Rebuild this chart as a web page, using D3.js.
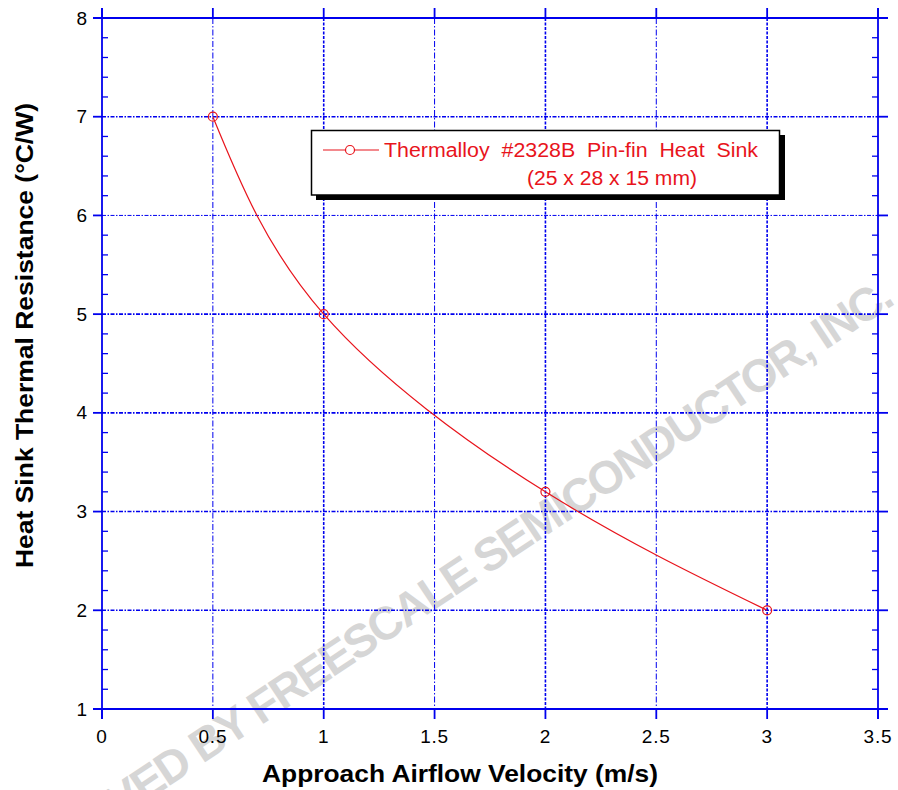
<!DOCTYPE html>
<html>
<head>
<meta charset="utf-8">
<script src="https://cdn.jsdelivr.net/npm/d3@7/dist/d3.min.js"></script>
<style>
  html, body { margin: 0; padding: 0; background: #fff; }
  svg { display: block; font-family: "Liberation Sans", Arial, sans-serif; }
</style>
</head>
<body>
<svg id="chart" width="898" height="790"></svg>
<script>
// ---- data ----
const velocity = [0.5, 1, 2, 3];             // m/s
const resistance = [7, 5, 3.2, 2];           // °C/W
const xTicks = [0, 0.5, 1, 1.5, 2, 2.5, 3, 3.5];
const xTickLabels = ["0", "0.5", "1", "1.5", "2", "2.5", "3", "3.5"];
const yTicks = [1, 2, 3, 4, 5, 6, 7, 8];
const yTickLabels = ["1", "2", "3", "4", "5", "6", "7", "8"];
const seriesName = "Thermalloy  #2328B  Pin-fin  Heat  Sink";
const seriesSub = "(25 x 28 x 15 mm)";
const xTitle = "Approach Airflow Velocity (m/s)";
const yTitle = "Heat Sink Thermal Resistance (°C/W)";
const watermark = "ARCHIVED BY FREESCALE SEMICONDUCTOR, INC.";

// ---- layout ----
const svg = d3.select("#chart");
const L = 102, R = 878, T = 18, B = 709;
const blue = "#0000ee", red = "#e8141c";

const x = d3.scaleLinear().domain([0, 3.5]).range([L, R]);
const y = d3.scaleLinear().domain([1, 8]).range([B, T]);

// watermark (behind)
svg.append("text")
  .attr("transform", "translate(895,304) rotate(-33.6)")
  .attr("text-anchor", "end")
  .attr("font-size", 46).attr("font-weight", "bold")
  .attr("letter-spacing", -2)
  .attr("fill", "#d6d6d6")
  .text(watermark);

// grid
const g = svg.append("g");
g.selectAll("line.vg").data(xTicks.filter(v => v > 0 && v < 3.5)).join("line")
  .attr("x1", d => x(d)).attr("x2", d => x(d)).attr("y1", T).attr("y2", B)
  .attr("stroke", blue)
  .attr("stroke-width", d => Number.isInteger(d) ? 1.6 : 1)
  .attr("stroke-dasharray", d => Number.isInteger(d) ? "3,1.5" : "6,2,1.5,2");
g.selectAll("line.hg").data(yTicks.filter(v => v > 1 && v < 8)).join("line")
  .attr("x1", L).attr("x2", R).attr("y1", d => y(d)).attr("y2", d => y(d))
  .attr("stroke", blue)
  .attr("stroke-width", d => d === 6 ? 1 : 1.6)
  .attr("stroke-dasharray", "4,1.5,1.5,1.5");

// axes frame (lines extend beyond the plot)
const ax = svg.append("g").attr("stroke", blue).attr("stroke-width", 1.8);
ax.append("line").attr("x1", L - 9).attr("x2", R + 10).attr("y1", B).attr("y2", B);
ax.append("line").attr("x1", L - 9).attr("x2", R + 10).attr("y1", T).attr("y2", T);
ax.append("line").attr("x1", L).attr("x2", L).attr("y1", T - 10).attr("y2", B + 10);
ax.append("line").attr("x1", R).attr("x2", R).attr("y1", T - 10).attr("y2", B + 10);

// bottom/top major ticks
ax.selectAll("line.bt").data(xTicks).join("line")
  .attr("x1", d => x(d)).attr("x2", d => x(d)).attr("y1", B).attr("y2", B + 10);
ax.selectAll("line.tt").data(xTicks).join("line")
  .attr("x1", d => x(d)).attr("x2", d => x(d)).attr("y1", T).attr("y2", T - 10);
// left/right major ticks
ax.selectAll("line.lt").data(yTicks).join("line")
  .attr("x1", L - 9).attr("x2", L).attr("y1", d => y(d)).attr("y2", d => y(d));
ax.selectAll("line.rt").data(yTicks).join("line")
  .attr("x1", R).attr("x2", R + 10).attr("y1", d => y(d)).attr("y2", d => y(d));
// minor ticks (inward)
const yMinor = d3.range(1, 8, 0.2).map(v => +v.toFixed(1)).filter(v => !Number.isInteger(v));
ax.selectAll("line.lm").data(yMinor).join("line")
  .attr("stroke-width", 1.3)
  .attr("x1", L).attr("x2", L + 6).attr("y1", d => y(d)).attr("y2", d => y(d));
ax.selectAll("line.rm").data(yMinor).join("line")
  .attr("stroke-width", 1.3)
  .attr("x1", R - 6).attr("x2", R).attr("y1", d => y(d)).attr("y2", d => y(d));

// tick labels
svg.append("g").selectAll("text").data(xTicks).join("text")
  .attr("x", d => x(d)).attr("y", 743)
  .attr("text-anchor", "middle").attr("font-size", 19).attr("fill", "#000")
  .attr("letter-spacing", 0.8)
  .text((d, i) => xTickLabels[i]);
svg.append("g").selectAll("text").data(yTicks).join("text")
  .attr("x", 87).attr("y", d => y(d) + 6.5)
  .attr("text-anchor", "end").attr("font-size", 19).attr("fill", "#000")
  .text((d, i) => yTickLabels[i]);

// axis titles
svg.append("text")
  .attr("x", 262).attr("y", 782)
  .attr("font-size", 24).attr("font-weight", "bold")
  .attr("textLength", 396).attr("lengthAdjust", "spacingAndGlyphs")
  .text(xTitle);
svg.append("text")
  .attr("transform", `translate(33,568) rotate(-90)`)
  .attr("font-size", 24).attr("font-weight", "bold")
  .attr("textLength", 465).attr("lengthAdjust", "spacingAndGlyphs")
  .text(yTitle);

// series
const pts = velocity.map((v, i) => [v, resistance[i]]);
const line = d3.line().x(d => x(d[0])).y(d => y(d[1])).curve(d3.curveNatural);
svg.append("path").datum(pts).attr("d", line)
  .attr("fill", "none").attr("stroke", red).attr("stroke-width", 1.2);
svg.append("g").selectAll("circle").data(pts).join("circle")
  .attr("cx", d => x(d[0])).attr("cy", d => y(d[1])).attr("r", 4.5)
  .attr("fill", "none").attr("stroke", red).attr("stroke-width", 1.2);

// legend
const lg = svg.append("g");
lg.append("rect").attr("x", 316).attr("y", 135).attr("width", 469).attr("height", 65).attr("fill", "#000");
lg.append("rect").attr("x", 311.5).attr("y", 130.5).attr("width", 468).attr("height", 64.5)
  .attr("fill", "#fff").attr("stroke", "#000").attr("stroke-width", 1.5);
lg.append("line").attr("x1", 323).attr("x2", 379).attr("y1", 150).attr("y2", 150)
  .attr("stroke", red).attr("stroke-width", 1.2);
lg.append("circle").attr("cx", 350).attr("cy", 150).attr("r", 4.5)
  .attr("fill", "#fff").attr("stroke", red).attr("stroke-width", 1.2);
lg.append("text").attr("x", 384).attr("y", 157).attr("font-size", 19.5)
  .attr("fill", red).style("white-space", "pre")
  .attr("textLength", 374).attr("lengthAdjust", "spacingAndGlyphs")
  .text(seriesName);
lg.append("text").attr("x", 527).attr("y", 185).attr("font-size", 19.5)
  .attr("fill", red).style("white-space", "pre")
  .attr("textLength", 170).attr("lengthAdjust", "spacingAndGlyphs")
  .text(seriesSub);
</script>
</body>
</html>
